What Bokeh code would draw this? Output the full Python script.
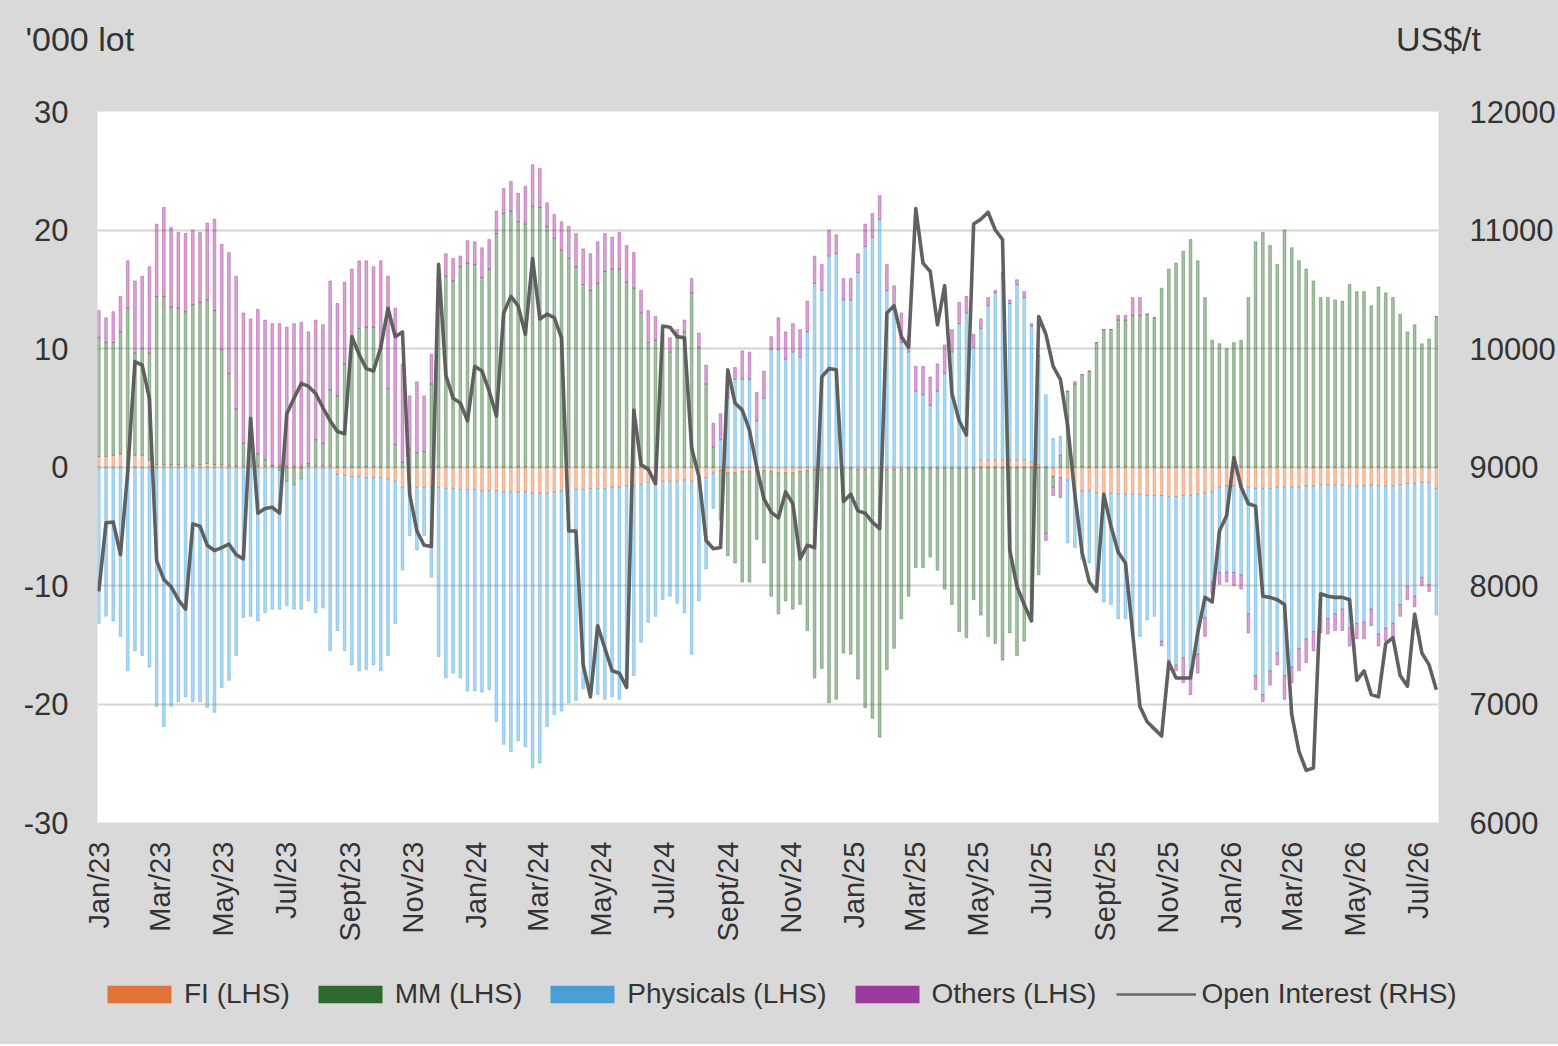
import math
import datetime as dt
import numpy as np
from bokeh.plotting import figure
from bokeh.layouts import column
from bokeh.models import (ColumnDataSource, LinearAxis, Range1d, FixedTicker,
                          Legend, LegendItem, Label)
from bokeh.embed import file_html
from bokeh.resources import INLINE

# ---------------- data (weekly, '000 lot) ----------------
FI = [
    0.9, 0.9, 1.0, 1.1, 0.4, 1.0, 1.0, 0.6, 0.2, 0.2,
    0.2, 0.2, 0.1, 0.1, 0.2, 0.3, 0.2, 0.2, 0.1, 0.1,
    0.1, 0.1, 0.1, 0.1, 0.1, 0.1, 0.1, 0.1, 0.1, 0.1,
    0.1, 0.1, 0.1, -0.6, -0.7, -0.8, -0.8, -0.9, -0.9, -0.9,
    -1.0, -1.2, -1.7, -1.7, -1.7, -1.7, -1.7, -1.7, -1.8, -1.8,
    -1.9, -1.9, -1.9, -2.0, -2.0, -2.0, -2.1, -2.1, -2.1, -2.1,
    -2.2, -2.2, -2.2, -2.1, -2.0, -2.0, -1.9, -1.9, -1.8, -1.8,
    -1.8, -1.7, -1.7, -1.6, -1.6, -1.5, -1.3, -1.2, -1.2, -1.2,
    -1.2, -1.1, -1.2, -1.0, -0.9, -0.5, -0.3, -0.5, -0.5, -0.4,
    -0.4, -0.3, -0.3, -0.4, -0.5, -0.5, -0.5, -0.4, -0.3, -0.2,
    -0.2, -0.1, -0.1, -0.1, -0.1, -0.2, -0.2, -0.1, -0.1, -0.2,
    -0.2, -0.2, -0.1, -0.1, -0.1, -0.1, -0.1, -0.1, -0.1, -0.1,
    -0.1, -0.1, 0.6, 0.6, 0.6, 0.6, 0.6, 0.6, 0.6, 0.4,
    0.2, 0.0, -0.8, -0.9, -1.1, -1.9, -2.0, -2.0, -2.2, -2.2,
    -2.2, -2.3, -2.3, -2.3, -2.3, -2.4, -2.4, -2.4, -2.5, -2.5,
    -2.4, -2.4, -2.3, -2.2, -2.1, -1.7, -1.6, -1.6, -1.6, -1.7,
    -1.8, -1.8, -1.8, -1.7, -1.7, -1.7, -1.7, -1.6, -1.6, -1.5,
    -1.5, -1.5, -1.5, -1.6, -1.6, -1.6, -1.5, -1.6, -1.6, -1.6,
    -1.5, -1.4, -1.4, -1.3, -1.3, -1.8,
]
MM = [
    10.0, 9.6, 9.5, 10.3, 13.0, 8.6, 9.0, 9.0, 14.2, 14.2,
    13.3, 13.2, 13.0, 13.6, 13.7, 13.8, 13.0, 9.7, 7.8, 4.8,
    1.9, 1.6, 1.0, 0.5, 0.0, -0.3, -1.2, -1.5, -1.0, 0.2,
    2.2, 1.9, 6.4, 6.0, 8.7, 11.0, 11.7, 11.8, 11.8, 9.9,
    6.6, 1.9, 0.4, 1.5, 1.2, 1.3, 7.0, 15.6, 16.1, 15.7,
    16.9, 17.2, 17.1, 16.0, 16.7, 19.7, 21.4, 21.6, 20.7, 20.5,
    22.0, 21.9, 20.3, 19.3, 18.3, 17.6, 16.9, 15.4, 14.9, 15.5,
    16.5, 16.7, 16.7, 15.6, 15.1, 13.0, 10.5, 10.7, 10.5, 9.7,
    10.9, 11.4, 14.7, 10.1, 7.0, 1.7, -4.2, -7.0, -7.6, -9.3,
    -9.3, -5.8, -7.8, -10.5, -11.9, -10.8, -11.5, -11.2, -13.5, -17.6,
    -16.8, -19.8, -19.5, -15.6, -15.7, -17.7, -20.1, -21.1, -22.7, -16.9,
    -15.1, -12.6, -10.8, -8.4, -8.4, -7.5, -8.6, -10.2, -11.5, -13.8,
    -14.3, -11.1, -12.5, -14.3, -14.9, -16.3, -14.0, -15.9, -14.7, -12.4,
    -9.1, -5.6, -0.9, 1.0, 6.4, 7.0, 7.8, 8.1, 10.5, 11.6,
    11.6, 12.4, 12.4, 12.8, 12.8, 12.9, 12.6, 15.1, 16.7, 17.2,
    18.2, 19.2, 17.4, 14.3, 10.7, 10.4, 10.0, 10.5, 10.7, 14.3,
    19.0, 19.8, 18.7, 17.1, 20.0, 18.5, 17.4, 16.7, 15.7, 14.3,
    14.3, 14.1, 14.0, 15.4, 14.8, 14.8, 13.6, 15.2, 14.7, 14.3,
    12.9, 11.4, 12.0, 10.4, 10.8, 12.7,
]
PHYSICALS = [
    -13.2, -12.6, -13.0, -14.3, -17.2, -15.5, -15.9, -16.9, -20.2, -21.9,
    -20.2, -19.8, -19.4, -19.8, -19.8, -20.3, -20.7, -18.6, -18.0, -15.9,
    -12.7, -12.6, -13.0, -12.3, -12.0, -11.7, -10.5, -10.5, -11.0, -11.3,
    -12.3, -11.9, -15.5, -13.2, -14.8, -15.9, -16.4, -16.2, -15.8, -16.3,
    -14.9, -12.0, -7.0, -4.1, -5.3, -4.1, -7.6, -14.3, -16.0, -15.6,
    -15.9, -17.0, -17.0, -17.0, -16.8, -19.5, -21.3, -21.9, -21.0, -21.5,
    -23.2, -22.8, -19.7, -18.8, -18.6, -17.9, -17.8, -16.8, -17.0, -17.4,
    -17.8, -17.7, -17.9, -17.0, -16.0, -13.3, -11.8, -11.4, -10.0, -9.7,
    -10.3, -11.2, -14.6, -10.3, -7.7, -3.0, 2.3, 5.8, 7.4, 7.4,
    7.4, 3.9, 5.8, 9.9, 9.9, 9.1, 9.7, 9.3, 11.4, 15.5,
    14.9, 17.8, 18.0, 14.1, 14.1, 16.4, 18.6, 19.4, 20.9, 14.9,
    13.6, 10.5, 9.7, 6.4, 6.1, 5.2, 6.4, 7.9, 9.7, 12.1,
    13.0, 10.1, 11.1, 13.0, 14.1, 15.3, 13.2, 14.8, 13.7, 11.5,
    9.2, 6.1, 2.4, 1.6, -5.3, -4.9, -5.8, -6.1, -8.3, -9.2,
    -9.4, -10.5, -10.5, -12.0, -12.0, -10.5, -10.2, -12.3, -13.8, -14.2,
    -13.7, -14.8, -13.5, -10.5, -7.6, -7.2, -7.3, -7.3, -7.5, -10.7,
    -15.8, -17.4, -15.4, -14.0, -15.9, -15.2, -13.6, -12.9, -12.3, -10.9,
    -11.3, -10.9, -10.5, -12.0, -11.6, -11.5, -10.5, -12.5, -12.0, -11.6,
    -10.1, -8.7, -9.5, -8.0, -8.6, -10.7,
]
OTHERS = [
    2.3, 2.1, 2.6, 3.0, 4.0, 6.1, 6.1, 7.3, 6.1, 7.5,
    6.7, 6.4, 6.6, 6.3, 5.9, 6.5, 7.7, 8.9, 10.2, 11.2,
    11.0, 10.8, 12.2, 11.8, 12.0, 12.0, 11.7, 12.0, 12.1, 11.1,
    10.1, 10.0, 9.2, 7.8, 6.9, 5.7, 5.7, 5.6, 5.1, 7.5,
    9.5, 11.5, 8.3, 4.5, 6.0, 4.7, 2.5, 0.4, 1.9, 1.9,
    0.9, 1.9, 1.9, 2.5, 2.5, 1.9, 2.1, 2.5, 2.4, 3.2,
    3.5, 3.3, 2.0, 2.0, 2.4, 2.7, 2.8, 3.0, 3.1, 3.5,
    3.2, 2.7, 3.1, 3.1, 3.0, 1.9, 2.7, 2.0, 0.7, 1.2,
    0.7, 1.0, 1.2, 1.2, 1.6, 2.0, 2.2, 2.0, 1.0, 2.4,
    2.3, 2.4, 2.3, 1.1, 2.7, 2.3, 2.4, 2.3, 2.6, 2.3,
    2.2, 2.2, 1.6, 1.8, 1.8, 1.6, 1.9, 2.0, 2.0, 2.2,
    1.7, 2.5, 1.3, 2.1, 2.4, 2.4, 2.3, 2.4, 1.9, 1.8,
    1.4, 1.1, 0.8, 0.7, 0.2, 0.5, 0.3, 0.4, 0.5, 0.2,
    0.0, -0.6, -0.7, -1.7, 0.0, 0.2, 0.0, 0.0, 0.0, 0.0,
    0.0, 0.4, 0.4, 1.5, 1.5, 0.0, 0.0, -0.4, -0.4, -0.5,
    -2.1, -2.0, -1.6, -1.6, -1.0, -1.0, -0.8, -1.1, -1.2, -1.6,
    -1.2, -0.6, -1.2, -1.0, -2.0, -1.3, -1.9, -2.0, -1.6, -1.6,
    -1.3, -1.4, -1.8, -1.5, -1.3, -1.4, -1.4, -1.0, -1.1, -1.1,
    -1.0, -1.1, -0.9, -0.7, -0.6, 0.0,
]
OPEN_INTEREST = [  # US$/t, right-hand scale
    7950, 8530, 8535, 8260, 8960, 9890, 9860, 9580, 8210, 8050,
    7990, 7880, 7800, 8520, 8500, 8340, 8295, 8320, 8350, 8260,
    8225, 9410, 8610, 8650, 8660, 8610, 9450, 9580, 9705, 9680,
    9620, 9500, 9390, 9300, 9280, 10100, 9950, 9830, 9810, 10010,
    10340, 10100, 10140, 8770, 8460, 8340, 8330, 10710, 9775, 9580,
    9540, 9390, 9850, 9810, 9640, 9430, 10300, 10440, 10360, 10120,
    10760, 10250, 10290, 10260, 10090, 8460, 8460, 7330, 7060, 7660,
    7470, 7280, 7260, 7140, 9480, 9020, 8980, 8860, 10190, 10180,
    10100, 10090, 9160, 8920, 8380, 8310, 8320, 9820, 9540, 9480,
    9310, 9000, 8730, 8620, 8570, 8790, 8690, 8225, 8340, 8320,
    9760, 9830, 9820, 8710, 8770, 8630, 8610, 8535, 8480, 10300,
    10360, 10100, 10010, 11180, 10720, 10650, 10200, 10530, 9620, 9390,
    9270, 11050, 11090, 11150, 11000, 10920, 8300, 7990, 7840, 7700,
    10270, 10120, 9850, 9740, 9350, 8770, 8280, 8030, 7950, 8770,
    8500, 8280, 8190, 7600, 6980, 6850, 6790, 6730, 7350, 7220,
    7220, 7220, 7600, 7900, 7860, 8460, 8590, 9080, 8830, 8690,
    8670, 7910, 7900, 7880, 7840, 6910, 6600, 6440, 6460, 7930,
    7910, 7900, 7900, 7880, 7200, 7280, 7080, 7060, 7510, 7560,
    7240, 7150, 7760, 7430, 7330, 7120,
]
FIRST_WEEK = "2023-01-01"
TICK_LABELS = ["Jan/23", "Mar/23", "May/23", "Jul/23", "Sept/23", "Nov/23",
               "Jan/24", "Mar/24", "May/24", "Jul/24", "Sept/24", "Nov/24",
               "Jan/25", "Mar/25", "May/25", "Jul/25", "Sept/25", "Nov/25",
               "Jan/26", "Mar/26", "May/26", "Jul/26"]
TICK_DATES = ["2023-01-01", "2023-03-01", "2023-05-01", "2023-07-01", "2023-09-01", "2023-11-01",
              "2024-01-01", "2024-03-01", "2024-05-01", "2024-07-01", "2024-09-01", "2024-11-01",
              "2025-01-01", "2025-03-01", "2025-05-01", "2025-07-01", "2025-09-01", "2025-11-01",
              "2026-01-01", "2026-03-01", "2026-05-01", "2026-07-01"]
LHS_TICKS = [-30, -20, -10, 0, 10, 20, 30]
RHS_TICKS = [6000, 7000, 8000, 9000, 10000, 11000, 12000]

SERIES_NAMES = ["FI (LHS)", "MM (LHS)", "Physicals (LHS)", "Others (LHS)"]
LINE_NAME = "Open Interest (RHS)"
UNIT_LEFT = "'000 lot"
UNIT_RIGHT = "US$/t"

lens = [len(FI), len(MM), len(PHYSICALS), len(OTHERS), len(OPEN_INTEREST)]
if len(set(lens)) != 1:
    raise SystemExit("length mismatch: %s" % lens)

# ---------------- styling ----------------
BAR_COLORS = ["#E97132", "#2E6B2E", "#3FA0DC", "#A02B93"]
LEGEND_COLORS = ["#E07438", "#2D6A2D", "#4A9ED6", "#9A3A9C"]
LINE_COLOR = "#595959"
BG = "#D9D9D9"
FONT = "Liberation Sans"
TXT = "#333333"
W = 1557
HEAD_H = 80
FOOT_H = 92

n = len(FI)
xs = np.arange(n)
origin = dt.date.fromisoformat(FIRST_WEEK)
tick_pos = [round((dt.date.fromisoformat(d) - origin).days / 7.0, 4) for d in TICK_DATES]


def blank_panel(height, xr, yr):
    f = figure(width=W, height=height, x_range=xr, y_range=yr,
               x_axis_type=None, y_axis_type=None, output_backend="svg", toolbar_location=None,
               min_border=0, min_border_left=0, min_border_right=0, min_border_top=0,
               min_border_bottom=0, outline_line_color=None,
               background_fill_color=BG, border_fill_color=BG, frame_align=False)
    f.grid.visible = False
    return f


# ---------------- header with unit captions ----------------
head = blank_panel(HEAD_H, Range1d(0, W), Range1d(0, HEAD_H))
head.add_layout(Label(x=25, y=HEAD_H - 38, text=UNIT_LEFT, text_font=FONT, text_font_size="34px",
                      text_color=TXT, text_baseline="middle", text_align="left"))
head.add_layout(Label(x=1438, y=HEAD_H - 38, text=UNIT_RIGHT, text_font=FONT, text_font_size="34px",
                      text_color=TXT, text_baseline="middle", text_align="center"))

# ---------------- main chart ----------------
p = figure(frame_width=1341, frame_height=711,
           x_range=Range1d(-0.18, 185.3), y_range=Range1d(LHS_TICKS[0], LHS_TICKS[-1]),
           output_backend="svg", toolbar_location=None,
           min_border_left=97, min_border_right=W - 97 - 1341, min_border_top=111 - HEAD_H,
           min_border_bottom=1044 - HEAD_H - FOOT_H - (111 - HEAD_H) - 711,
           background_fill_color="white", border_fill_color=BG, outline_line_color=None,
           frame_align=False)
p.extra_y_ranges = {"oi": Range1d(RHS_TICKS[0], RHS_TICKS[-1])}

# stacked bars (positives stacked upward, negatives downward, in series order)
pos = np.zeros(n)
neg = np.zeros(n)
sources = []
for vals, col in zip([FI, MM, PHYSICALS, OTHERS], BAR_COLORS):
    v = np.array(vals, dtype=float)
    bottom = np.where(v >= 0, pos, neg + v)
    top = np.where(v >= 0, pos + v, neg)
    pos = pos + np.clip(v, 0, None)
    neg = neg + np.clip(v, None, 0)
    src = ColumnDataSource(dict(x=xs, top=top, bottom=bottom))
    sources.append(src)
    p.vbar(x="x", top="top", bottom="bottom", width=0.38, source=src,
           fill_color=col, fill_alpha=0.42, line_color=col, line_alpha=0.55, line_width=0.7)

oi_src = ColumnDataSource(dict(x=xs, y=OPEN_INTEREST))
p.line("x", "y", source=oi_src, y_range_name="oi", line_color=LINE_COLOR, line_width=3.6,
       line_alpha=0.95, line_join="round")

# axes
p.yaxis.ticker = FixedTicker(ticks=LHS_TICKS)
p.yaxis.major_label_overrides = {t: str(t) for t in LHS_TICKS}
right = LinearAxis(y_range_name="oi", ticker=FixedTicker(ticks=RHS_TICKS))
right.major_label_overrides = {t: str(t) for t in RHS_TICKS}
p.add_layout(right, "right")
p.xaxis.ticker = FixedTicker(ticks=tick_pos)
p.xaxis.major_label_overrides = {tp: lab for tp, lab in zip(tick_pos, TICK_LABELS)}
p.xaxis.major_label_orientation = math.pi / 2

for ax in p.axis:
    ax.axis_line_color = None
    ax.major_tick_line_color = None
    ax.minor_tick_line_color = None
    ax.major_tick_out = 0
    ax.major_tick_in = 0
    ax.major_label_text_font = FONT
    ax.major_label_text_font_size = "31px"
    ax.major_label_text_color = TXT
p.xaxis.major_label_text_font_size = "29px"
p.yaxis[0].major_label_standoff = 29
right.major_label_standoff = 31
p.xaxis.major_label_standoff = 19

p.xgrid.visible = False
p.ygrid.grid_line_color = "#D4D4D4"
p.ygrid.grid_line_width = 2

# ---------------- footer with legend ----------------
foot = blank_panel(FOOT_H, Range1d(0, 1), Range1d(0, 1))
items = []
for name, col, src in zip(SERIES_NAMES, LEGEND_COLORS, sources):
    r = foot.vbar(x="x", top="top", bottom="bottom", width=0.4, source=src,
                  fill_color=col, line_color=None, visible=False)
    items.append(LegendItem(label=name, renderers=[r], index=0))
rl = foot.line("x", "y", source=oi_src, line_color="#666666", line_width=2.5, visible=False)
items.append(LegendItem(label=LINE_NAME, renderers=[rl], index=0))
legend = Legend(items=items, orientation="horizontal", location=(99, FOOT_H - 43 - 15),
                glyph_width=80, glyph_height=22, label_standoff=5, spacing=20,
                padding=0, margin=0, border_line_color=None, background_fill_alpha=0,
                label_text_font=FONT, label_text_font_size="28px", label_text_color=TXT,
                label_height=30)
foot.add_layout(legend)

layout = column(head, p, foot, spacing=0, styles={"background-color": BG})
open("out.html", "w").write(file_html(layout, INLINE))
